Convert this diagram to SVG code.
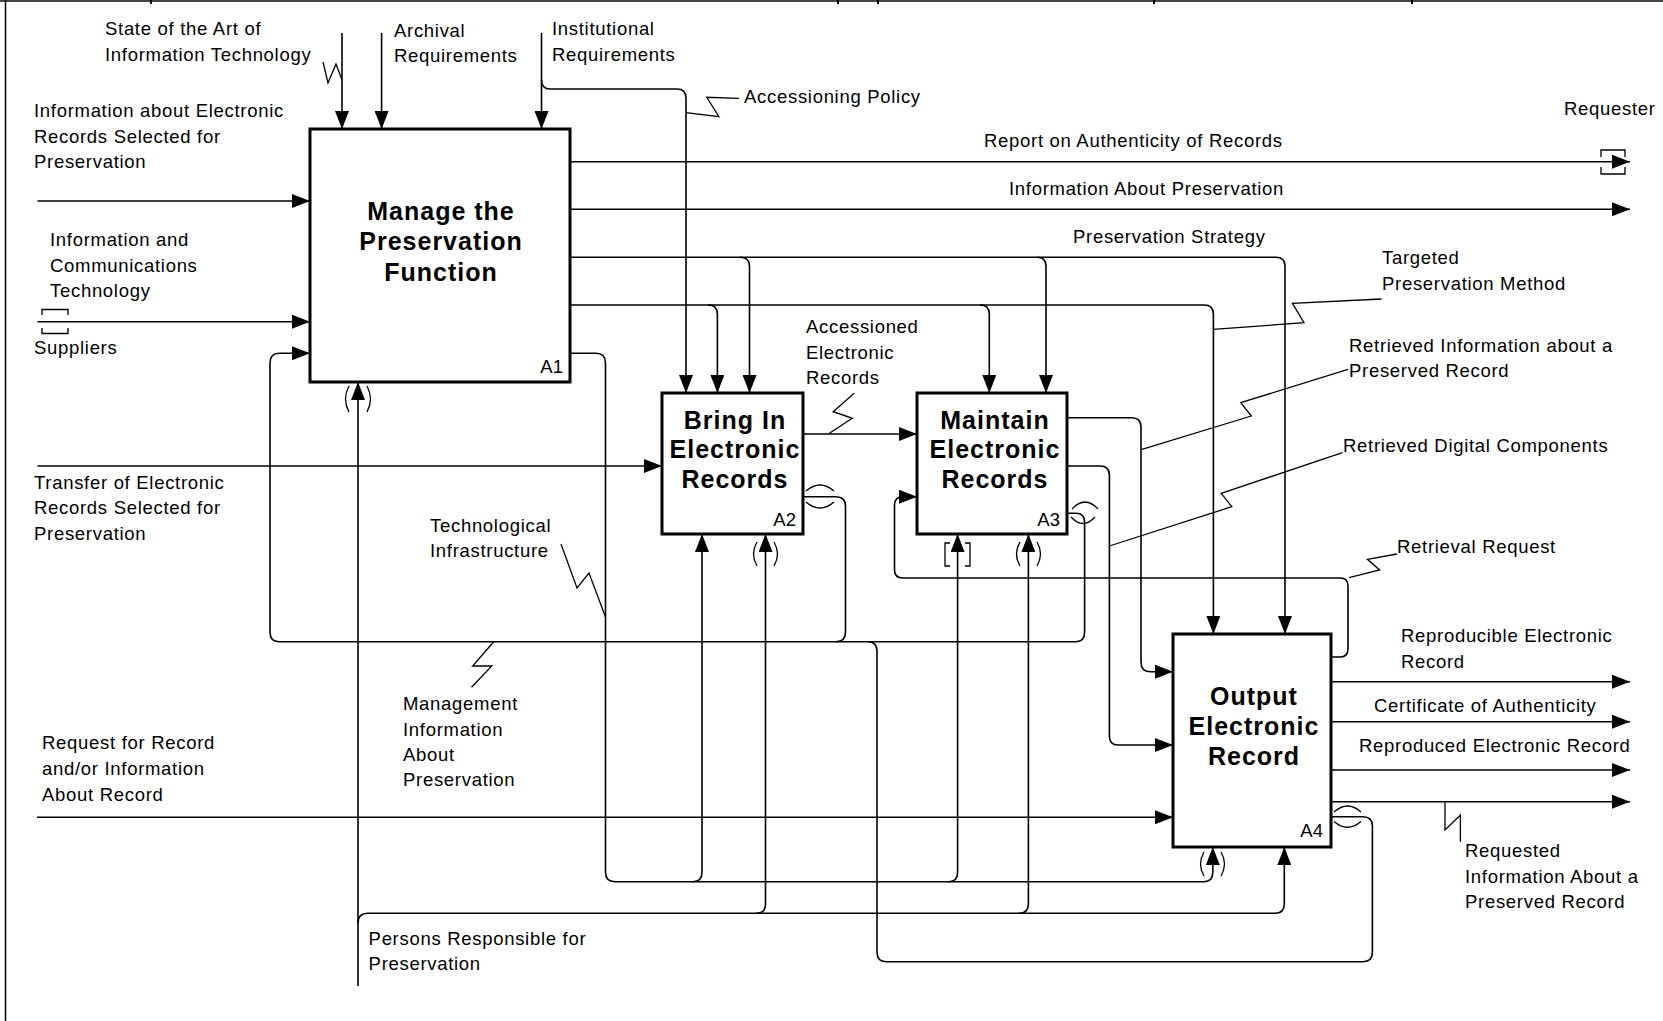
<svg xmlns="http://www.w3.org/2000/svg" width="1663" height="1021" viewBox="0 0 1663 1021">
<defs>
<style>
.box{fill:#fff;stroke:#000;stroke-width:3}
.c{fill:none;stroke:#000;stroke-width:1.6}
.s{fill:none;stroke:#000;stroke-width:1.3}
.a{marker-end:url(#ah)}
.lbl{font-family:"Liberation Sans",Arial,sans-serif;font-size:18.5px;letter-spacing:0.7px;fill:#000}
.title{font-family:"Liberation Sans",Arial,sans-serif;font-size:25px;font-weight:bold;text-anchor:middle;letter-spacing:1px;fill:#000}
.num{font-family:"Liberation Sans",Arial,sans-serif;font-size:18.5px;text-anchor:end;fill:#000}
</style>
<marker id="ah" markerUnits="userSpaceOnUse" markerWidth="18" markerHeight="14" refX="18" refY="7" orient="auto"><path d="M0,0 L18,7 L0,14 z" fill="#000"/></marker>
</defs>
<rect width="1663" height="1021" fill="#fff"/>
<g id="frame">
<line x1="0" y1="1" x2="1663" y2="1" stroke="#444" stroke-width="2"/>
<line x1="5.5" y1="0" x2="5.5" y2="1021" stroke="#000" stroke-width="1.5"/>
<path d="M151,0V4M838,0V4M878,0V4M1154,0V4M1412,0V4" stroke="#000" stroke-width="2"/>
</g>
<g id="A1">
<rect class="box" x="310" y="129" width="260" height="253"/>
<text class="title" x="441" y="220">Manage the</text>
<text class="title" x="441" y="250">Preservation</text>
<text class="title" x="441" y="281">Function</text>
<text class="num" x="563" y="373">A1</text>
</g>
<g id="A2">
<rect class="box" x="662" y="393" width="141" height="141"/>
<text class="title" x="735" y="429">Bring In</text>
<text class="title" x="735" y="458">Electronic</text>
<text class="title" x="735" y="488">Records</text>
<text class="num" x="796" y="526">A2</text>
</g>
<g id="A3">
<rect class="box" x="917" y="393" width="150" height="141"/>
<text class="title" x="995" y="429">Maintain</text>
<text class="title" x="995" y="458">Electronic</text>
<text class="title" x="995" y="488">Records</text>
<text class="num" x="1060" y="526">A3</text>
</g>
<g id="A4">
<rect class="box" x="1173" y="634" width="158" height="213"/>
<text class="title" x="1254" y="705">Output</text>
<text class="title" x="1254" y="735">Electronic</text>
<text class="title" x="1254" y="765">Record</text>
<text class="num" x="1323" y="837">A4</text>
</g>
<g id="connectors">
<path class="c a" d="M342,33V129"/>
<path class="c a" d="M381.6,33V129"/>
<path class="c a" d="M541.5,33V129"/>
<path class="c a" d="M541.5,80Q541.5,89 550,89H677Q686,89 686,98V393"/>
<path class="c a" d="M37.5,201H310"/>
<path class="c a" d="M37.5,321.7H310"/>
<path class="s" d="M42,315V309.5H68V315M42,328V333.5H68V328"/>
<path class="c a" d="M37.5,466H662"/>
<path class="c a" d="M37,817.3H1173"/>
<path class="c a" d="M570,161.7H1630"/>
<path class="s" d="M1601,157V150H1625V157M1601,167V174H1625V167"/>
<path class="c a" d="M570,209.3H1630"/>
<path class="c a" d="M570,257.3H1276Q1285,257.3 1285,266V634"/>
<path class="c a" d="M740,257.3Q749.5,257.3 749.5,266V393"/>
<path class="c a" d="M1037,257.3Q1046,257.3 1046,266V393"/>
<path class="c a" d="M570,305H1204Q1213.4,305 1213.4,314V634"/>
<path class="c a" d="M708,305Q717.4,305 717.4,314V393"/>
<path class="c a" d="M980,305Q989.3,305 989.3,314V393"/>
<path class="c a" d="M570,353.3H596Q605.5,353.3 605.5,363V872Q605.5,881.7 615,881.7H1204Q1212.8,881.7 1212.8,872V847"/>
<path class="c a" d="M693,881.7Q702,881.7 702,872V534"/>
<path class="c a" d="M949,881.7Q957.6,881.7 957.6,872V534"/>
<path class="c a" d="M358,986V382"/>
<path class="c a" d="M358,923Q358,913.3 368,913.3H1275Q1284.3,913.3 1284.3,904V847"/>
<path class="c a" d="M756,913.3Q765.5,913.3 765.5,904V534"/>
<path class="c a" d="M1019,913.3Q1028.4,913.3 1028.4,904V534"/>
<path class="s" d="M349,386Q342,399 349,412M367,386Q374,399 367,412"/>
<path class="s" d="M757,542Q750,554 757,566M774,542Q781,554 774,566"/>
<path class="s" d="M950,543H945V566H950M965,543H970V566H965"/>
<path class="s" d="M1020,542Q1013,554 1020,566M1037,542Q1044,554 1037,566"/>
<path class="s" d="M1204,852Q1197,864 1204,876M1221,852Q1228,864 1221,876"/>
<path class="c a" d="M803,434H917"/>
<path class="c a" d="M1067,417.7H1132Q1141,417.7 1141,427V662Q1141,671.7 1150,671.7H1173"/>
<path class="c a" d="M1067,466H1100Q1109.4,466 1109.4,475V736Q1109.4,745 1118,745H1173"/>
<path class="c a" d="M1331,657H1340Q1348,657 1348,649V586Q1348,578 1340,578H903Q894.5,578 894.5,570V505Q894.5,496.7 903,496.7H917"/>
<path class="c" d="M803,496.7H836Q845.5,496.7 845.5,506V632Q845.5,641.7 836,641.7"/>
<path class="s" d="M806,491Q820,479 834,491M806,502Q820,514 834,502"/>
<path class="c" d="M1067,513.3H1076Q1084.6,513.3 1084.6,522V632Q1084.6,641.7 1076,641.7H868"/>
<path class="s" d="M1072,509Q1085,495 1098,509M1071,517Q1083,530 1095,517"/>
<path class="c a" d="M1331,816.7H1363Q1372.4,816.7 1372.4,826V952Q1372.4,961.7 1363,961.7H886Q877,961.7 877,952V651Q877,641.7 868,641.7H279Q270,641.7 270,632V363Q270,353.3 279,353.3H310"/>
<path class="s" d="M1334,812Q1347.5,800 1361,812M1334,821.5Q1347.5,833 1361,821.5"/>
<path class="c a" d="M1331,681.7H1630"/>
<path class="c a" d="M1331,721.7H1630"/>
<path class="c a" d="M1331,770H1630"/>
<path class="c a" d="M1331,801.7H1630"/>
<polyline class="s" points="323,62 328,83 336,64 342,80"/>
<polyline class="s" points="686,112.7 719,116.7 706.7,97.3 739,98.3"/>
<polyline class="s" points="1213.4,329.3 1304,322.7 1292.4,303.3 1381.5,299"/>
<polyline class="s" points="1142,449.3 1251.3,416 1240.8,402.7 1348,369.3"/>
<polyline class="s" points="1109.4,546 1231.8,506.7 1221.2,493.3 1342.4,452.7"/>
<polyline class="s" points="1349,577.7 1379.6,570 1367.4,559.3 1397,554"/>
<polyline class="s" points="829.4,433.3 852.3,418.3 833.2,411.7 854.2,393.3"/>
<polyline class="s" points="561,544 577,588 589,573 605.5,617"/>
<polyline class="s" points="493.7,641.7 472.6,666 491.8,666 471.5,687.3"/>
<polyline class="s" points="1445,801.7 1445,830 1460.4,815 1460.4,841.7"/>
</g>
<g id="labels" class="lbl">
<text x="105" y="35">State of the Art of</text>
<text x="105" y="61">Information Technology</text>
<text x="394" y="37">Archival</text>
<text x="394" y="62">Requirements</text>
<text x="552" y="35">Institutional</text>
<text x="552" y="61">Requirements</text>
<text x="744" y="103">Accessioning Policy</text>
<text x="1564" y="115">Requester</text>
<text x="984" y="147">Report on Authenticity of Records</text>
<text x="1009" y="195">Information About Preservation</text>
<text x="1073" y="243">Preservation Strategy</text>
<text x="1382" y="264">Targeted</text>
<text x="1382" y="290">Preservation Method</text>
<text x="1349" y="352">Retrieved Information about a</text>
<text x="1349" y="377">Preserved Record</text>
<text x="1343" y="452">Retrieved Digital Components</text>
<text x="1397" y="553">Retrieval Request</text>
<text x="1401" y="642">Reproducible Electronic</text>
<text x="1401" y="668">Record</text>
<text x="1374" y="712">Certificate of Authenticity</text>
<text x="1359" y="752">Reproduced Electronic Record</text>
<text x="1465" y="857">Requested</text>
<text x="1465" y="883">Information About a</text>
<text x="1465" y="908">Preserved Record</text>
<text x="34" y="117">Information about Electronic</text>
<text x="34" y="142.5">Records Selected for</text>
<text x="34" y="168">Preservation</text>
<text x="50" y="246">Information and</text>
<text x="50" y="271.7">Communications</text>
<text x="50" y="296.7">Technology</text>
<text x="34" y="354">Suppliers</text>
<text x="806" y="333">Accessioned</text>
<text x="806" y="359">Electronic</text>
<text x="806" y="384">Records</text>
<text x="34" y="489">Transfer of Electronic</text>
<text x="34" y="514">Records Selected for</text>
<text x="34" y="540">Preservation</text>
<text x="430" y="532">Technological</text>
<text x="430" y="557">Infrastructure</text>
<text x="403" y="710">Management</text>
<text x="403" y="735.5">Information</text>
<text x="403" y="761">About</text>
<text x="403" y="786">Preservation</text>
<text x="42" y="749">Request for Record</text>
<text x="42" y="775">and/or Information</text>
<text x="42" y="800.5">About Record</text>
<text x="368.6" y="945">Persons Responsible for</text>
<text x="368.6" y="970">Preservation</text>
</g>
</svg>
